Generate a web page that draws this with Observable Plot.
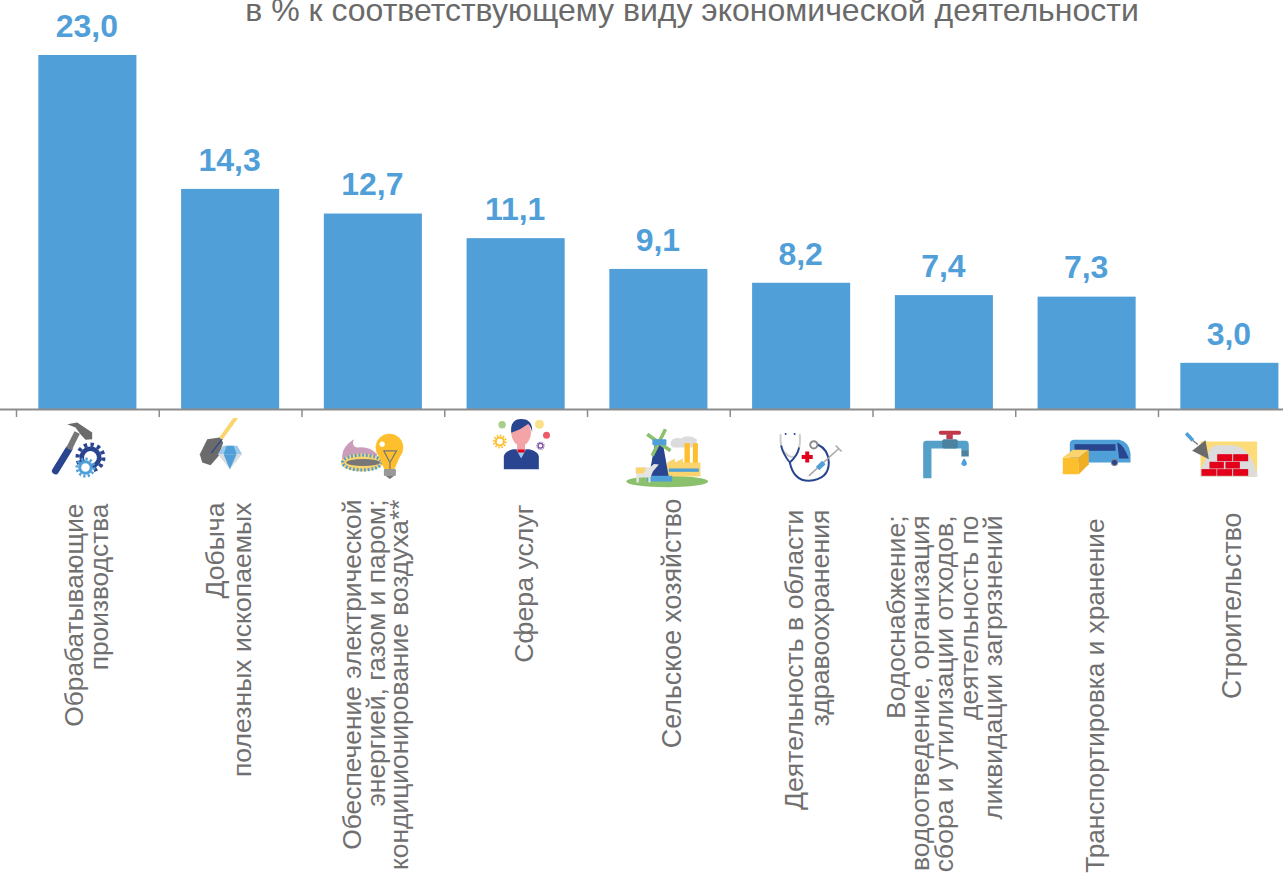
<!DOCTYPE html>
<html lang="ru">
<head>
<meta charset="utf-8">
<script src="https://cdn.jsdelivr.net/npm/d3@7"></script>
<script src="https://cdn.jsdelivr.net/npm/@observablehq/plot@0.6"></script>
<style>html,body{margin:0;padding:0;background:#fff;overflow:hidden}svg{display:block}</style>
</head>
<body>
<div id="chart"></div>
<script>
const chartTitle = "в % к соответствующему виду экономической деятельности";
const categories = [
  "Обрабатывающие\nпроизводства",
  "Добыча\nполезных ископаемых",
  "Обеспечение электрической\nэнергией, газом и паром;\nкондиционирование воздуха**",
  "Сфера услуг",
  "Сельское хозяйство",
  "Деятельность в области\nздравоохранения",
  "Водоснабжение;\nводоотведение, организация\nсбора и утилизации отходов,\nдеятельность по\nликвидации загрязнений",
  "Транспортировка и хранение",
  "Строительство"
];
const values = [23.0, 14.3, 12.7, 11.1, 9.1, 8.2, 7.4, 7.3, 3.0];

// Layout of the rotated category captions (not data)
const captionOffsetY = [94, 93, 90, 95, 89, 100, 106, 109, 103];
const captionOffsetX = [-0.5, -1.4, 3.8, 8.8, 13.7, 6.2, 1.1, 8.8, 3];
const captionLineHeight = [0.97, 1, 0.89, 1, 1, 0.98, 0.917, 1, 1];
const captionSize = [26.3, 26.6, 26.4, 26.7, 26.8, 26.7, 26.5, 26.2, 26.8];

// Pictograms, one per category, in a 100x72 box hanging under the axis
const B="#2a4590", L="#4f9fd8", Y="#fdbf2d", P="#fbd46d", G="#6b6b6b", R="#e2001a";
const gear=(x,y,r,c)=>`<circle cx="${x}" cy="${y}" r="${r*.86}" fill="none" stroke="${c}" stroke-width="${r*.28}" pathLength="24" stroke-dasharray="1 1"/><circle cx="${x}" cy="${y}" r="${r*.58}" fill="#fff" stroke="${c}" stroke-width="${r*.3}"/>`;
const icons = [
 `<path d="M17.6 53.3L31 31.7" stroke="${B}" stroke-width="7" stroke-linecap="round"/><path d="M31 31.7L39.3 15" stroke="#777" stroke-width="6"/><path d="M29.3 6.7L39.3 5L54.3 15L54.3 21.7L47.6 22.3L42.6 16.7L37.6 10z" fill="${G}"/>${gear(52.6,40,15,B)}${gear(47.6,50,10,L)}`,
 `<path d="M56.6 -1.7L39.9 21.7" stroke="${P}" stroke-width="4"/><path d="M26.6 21.7L39 20L42.6 25L38.2 38.3L29.9 47.7L21.6 45L19.2 36.7z" fill="${G}"/><path d="M41.6 21.7L30.6 35.7" stroke="${B}" stroke-width="1.2"/><path d="M42.6 28.3H56.5L61.6 36.7H37.2z" fill="#9cc9ea"/><path d="M46 28.3H53L56 36.7H43z" fill="${L}"/><path d="M37.2 36.7H61.6L49.2 51.7z" fill="#d9dde2"/><path d="M43 36.7H56L49.2 51.7z" fill="${L}"/>`,
 `<path d="M18.8 38.3Q19 29 30.4 21.7Q28 29 33.8 30Q46 28 53.8 36.7L50 50H24Q18 46 18.8 38.3z" fill="#cc9dbb"/><ellipse cx="38.5" cy="45" rx="21" ry="9" fill="${P}"/><ellipse cx="38.8" cy="45" rx="19.5" ry="7.5" fill="none" stroke="${L}" stroke-width="3.2" pathLength="48" stroke-dasharray="1 1"/><ellipse cx="39.8" cy="45" rx="17" ry="3.5" fill="#777"/><circle cx="66.1" cy="30" r="13.8" fill="${Y}"/><path d="M55 38L61 52H71L77 38z" fill="${Y}"/><path d="M60.4 33.3H73.1L66.6 45zM66.6 45V52" fill="none" stroke="#777" stroke-width="1.2"/><rect x="60.5" y="51.5" width="12" height="7" rx="1" fill="#999"/><path d="M62.5 58.5H70.5L66.5 61.5z" fill="#777"/><circle cx="58.8" cy="26.7" r="2.6" fill="#fff"/>`,
 `${gear(33.7,24,7,Y)}<circle cx="36" cy="7.3" r="3.7" fill="#a7d08c"/><circle cx="73.4" cy="6.7" r="4.5" fill="#fbe08a"/><circle cx="80.4" cy="17.7" r="3.5" fill="#ee5b68"/>${gear(74.4,28.3,4.2,"#7b4fa3")}<path d="M37.7 51.7V39Q38 34 47 31.7H63Q72.4 34 72.7 39V51.7z" fill="${B}"/><path d="M50 31.7H60L55 41z" fill="#9cc9ea"/><rect x="51" y="24" width="8" height="9" fill="#f4a3a6"/><rect x="51.5" y="32" width="7" height="3" fill="${R}"/><ellipse cx="55" cy="15" rx="10" ry="13" fill="#f4a3a6"/><path d="M45 15Q44 1.5 55 1.5Q67 1.5 66 15Q65 9 62 6.5Q55 12 46 15z" fill="${B}"/>`,
 `<ellipse cx="58.3" cy="64" rx="41" ry="5.7" fill="#8bc06c"/><path d="M61.6 27Q62 19 72 21Q80 16 88 22Q88 28 84 30H64z" fill="#dcdcdc"/><rect x="75.6" y="25.7" width="5.4" height="20" fill="${Y}"/><rect x="84" y="25.7" width="5" height="20" fill="${Y}"/><path d="M58.3 45L66 41L66 45L74 41L74 45L91.6 45V59H58.3z" fill="${P}"/><rect x="60" y="51" width="30" height="3.3" fill="${L}"/><path d="M46 26H54L60 60H40z" fill="${B}"/><rect x="38.3" y="58.3" width="25" height="5.7" fill="${L}"/><path d="M38.3 16.7L61.6 33.3M56.6 11.7L43.3 38.3" stroke="#8bc06c" stroke-width="3.6"/><rect x="43.5" y="21.7" width="14" height="6" rx="1" fill="${L}"/><path d="M26.6 50H41L45 46.5L50 47L44 54L41.6 60V65H39.5V60H30V65H27.5V60z" fill="#e4e4e4"/><path d="M27 50H37L35 56H27z" fill="${P}"/>`,
 `<path d="M29 16.7Q28 30 33 35Q42 44 46 35Q49 28 48.2 16.7" fill="none" stroke="#ccc" stroke-width="2"/><path d="M29.5 28Q31 36 38.2 45Q46 38 47.5 30" fill="none" stroke="${B}" stroke-width="1.8"/><path d="M38.2 45Q42 63.3 57.2 63.3Q77.2 62 77.2 45Q77 32 66 27" fill="none" stroke="${B}" stroke-width="2"/><circle cx="62.2" cy="27.3" r="3.6" fill="#fff" stroke="#8c8c8c" stroke-width="2"/><circle cx="34" cy="16.5" r="1" fill="${B}"/><circle cx="43" cy="16.5" r="1" fill="${B}"/><path d="M53.6 34h4v3.5h3.5v4h-3.5v3.5h-4v-3.5h-3.5v-4h3.5z" fill="${R}"/><path d="M87.2 31L57.2 58.3M84 28L90 34" stroke="#aaa" stroke-width="1.6"/><path d="M72.2 45L66 51" stroke="${L}" stroke-width="5"/>`,
 `<path d="M28.8 60.7V26Q28.8 23.3 32 23.3H71Q74.4 23.3 74.4 27V33H67V31H37.1V60.7z" fill="#55a0c8"/><rect x="47.8" y="21.7" width="15.6" height="9.3" rx="2" fill="#4a82a0"/><rect x="52" y="16.7" width="6.4" height="5" fill="#c0394b"/><rect x="44.4" y="13.3" width="22.3" height="4" rx="2" fill="#c0394b"/><rect x="67" y="32.7" width="7.4" height="6.3" fill="#4a82a0"/><path d="M69.8 40.7Q72.5 44 72.5 45.7A2.7 2.7 0 0 1 67.1 45.7Q67.1 44 69.8 40.7z" fill="${L}"/>`,
 `<path d="M32.7 26Q33 22.3 37 22.3H82Q92 24 93.4 36V45H32.7z" fill="${L}"/><rect x="37.4" y="26.7" width="41" height="6.6" fill="${B}"/><path d="M80 25Q86 26 91.7 41H82z" fill="${B}"/><circle cx="77.4" cy="45" r="3.2" fill="${B}" stroke="#8c8c8c" stroke-width="1"/><path d="M25.7 40H41.7V56.7H25.7z" fill="${Y}"/><path d="M25.7 40L35.7 32.3H51.7L41.7 40z" fill="${P}"/><path d="M41.7 40L51.7 32.3V46.7L41.7 56.7z" fill="#f0ae22"/>`,
 `<rect x="20.6" y="24" width="56.7" height="35.3" fill="#fcdc78"/><path d="M30 32Q34 26 42 28Q56 26 64 32Q72 38 77.3 56V59.3H20.6V52Q26 42 30 32z" fill="#dcdcdc"/><g fill="${R}"><rect x="37.3" y="36.7" width="15" height="7"/><rect x="53.3" y="36.7" width="15" height="7"/><rect x="29.6" y="44.3" width="14.4" height="6.7"/><rect x="45.6" y="44.3" width="14.4" height="6.7"/><rect x="21.6" y="51.6" width="15" height="6.7"/><rect x="37.3" y="51.6" width="15" height="6.7"/><rect x="53.3" y="51.6" width="15" height="6.7"/></g><path d="M25.6 22.7L12.3 33.3L29 41.7z" fill="${G}"/><path d="M6.3 15.7L13 23" stroke="${L}" stroke-width="3.5"/><path d="M13 23L18 27" stroke="#777" stroke-width="1.5"/>`
];
const iconSrc = icons.map(s => "data:image/svg+xml," + encodeURIComponent(
  `<svg xmlns="http://www.w3.org/2000/svg" width="100" height="72" viewBox="0 0 100 72">${s}</svg>`));

const rows = categories.map((c, i) => ({category: c, value: values[i], icon: iconSrc[i]}));
const step = 142.75;

const chart = Plot.plot({
  width: 1283, height: 874,
  marginTop: 0, marginRight: 0, marginBottom: 0, marginLeft: 0,
  style: {fontFamily: "'Liberation Sans', Arial, sans-serif", background: "#fff"},
  x: {type: "band", domain: categories, range: [16, 16 + step * 9], paddingInner: 0.313, paddingOuter: 0.1565, align: 0.5, round: false, axis: null},
  y: {domain: [0, 23], range: [409, 55], axis: null},
  marks: [
    Plot.barY(rows, {x: "category", y: "value", fill: "#519fd9"}),
    Plot.ruleY([0], {stroke: "#8c8c8c", strokeWidth: 2}),
    Plot.ruleX(categories, {x: d => d, y1: 0, y2: -0.52, dx: -step / 2, stroke: "#8c8c8c", strokeWidth: 1.5}),
    Plot.text(rows, {x: "category", y: "value", text: d => d.value.toFixed(1).replace(".", ","),
      dy: -29, dx: -1, fill: "#519fd9", fontSize: 32, fontWeight: "bold"}),
    Plot.image(rows, {x: "category", y: () => 0, src: "icon", width: 100, height: 72, dy: 44}),
    ...rows.map((r, i) => Plot.text([r], {x: "category", y: () => 0, text: "category",
      rotate: -90, textAnchor: "end", lineAnchor: "middle",
      dx: captionOffsetX[i], dy: captionOffsetY[i], lineHeight: captionLineHeight[i],
      fontSize: captionSize[i], fill: "#707070"})),
    Plot.text([chartTitle], {frameAnchor: "top", dx: 50, dy: 20, lineAnchor: "bottom", fontSize: 32, fill: "#6a6a6a"})
  ]
});
document.getElementById("chart").append(chart);
</script>
</body>
</html>
